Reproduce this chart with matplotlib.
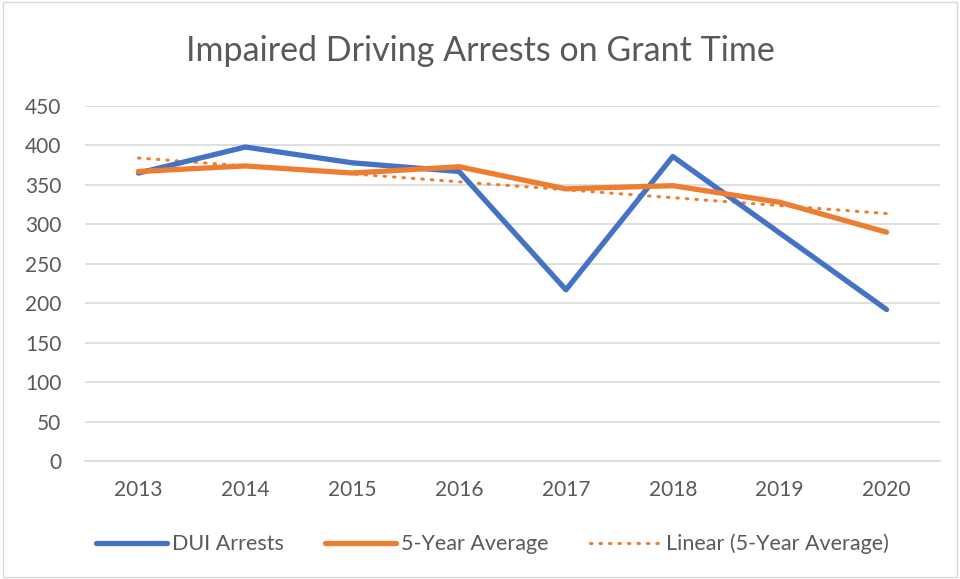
import numpy as np
import matplotlib
matplotlib.use("Agg")
import matplotlib.pyplot as plt
from matplotlib.patches import Rectangle

years = ["2013", "2014", "2015", "2016", "2017", "2018", "2019", "2020"]
dui_arrests = [365, 398, 378, 367, 217, 386, 289, 192]
five_year_avg = [367, 374, 365, 373, 345, 349, 328, 290]
yticks = [0, 50, 100, 150, 200, 250, 300, 350, 400, 450]

plt.rcParams['font.family'] = ['Lato', 'DejaVu Sans']
text_color = "#595959"

fig = plt.figure(figsize=(9.6, 5.79), dpi=100)
ax = fig.add_axes([85/960, 1 - 461/579, (940-85)/960, (461-106)/579])

x = np.arange(len(years))
ax.plot(x, dui_arrests, color="#4472C4", lw=3.8, solid_capstyle="round",
        solid_joinstyle="round", label="DUI Arrests", zorder=3)
ax.plot(x, five_year_avg, color="#ED7D31", lw=3.8, solid_capstyle="round",
        solid_joinstyle="round", label="5-Year Average", zorder=4)
coef = np.polyfit(x + 1, five_year_avg, 1)
trend = np.polyval(coef, x + 1)
ax.plot(x, trend, color="#ED7D31", lw=2.2, linestyle=(0, (0.5, 2.6)),
        dash_capstyle="round", label="Linear (5-Year Average)", zorder=2)

ax.set_xlim(-0.5, len(years) - 0.5)
ax.set_ylim(0, 450)
ax.set_yticks(yticks)
ax.set_xticks(x)
ax.set_xticklabels(years)
ax.grid(axis="y", color="#D9D9D9", lw=1.2)
ax.set_axisbelow(True)
for s in ["top", "right", "left"]:
    ax.spines[s].set_visible(False)
ax.spines["bottom"].set_color("#D9D9D9")
ax.spines["bottom"].set_linewidth(1.2)
ax.tick_params(axis="both", length=0, labelsize=15, colors=text_color)
ax.tick_params(axis="x", pad=14)
ax.tick_params(axis="y", pad=17)

fig.text(0.5, 1 - 51/579, "Impaired Driving Arrests on Grant Time",
         ha="center", va="center", fontsize=24.5, color=text_color)

leg = fig.legend(loc="center", bbox_to_anchor=(0.513, 1 - 544/579), ncol=3,
                 frameon=False, fontsize=15.5, handlelength=3.3,
                 columnspacing=1.9, handletextpad=0.25)
for t in leg.get_texts():
    t.set_color(text_color)

fig.patches.append(Rectangle((0.003, 0.003), 0.994, 0.994, transform=fig.transFigure,
                             fill=False, edgecolor="#D9D9D9", lw=1.0))

fig.savefig("out.png", dpi=100, facecolor="white")
